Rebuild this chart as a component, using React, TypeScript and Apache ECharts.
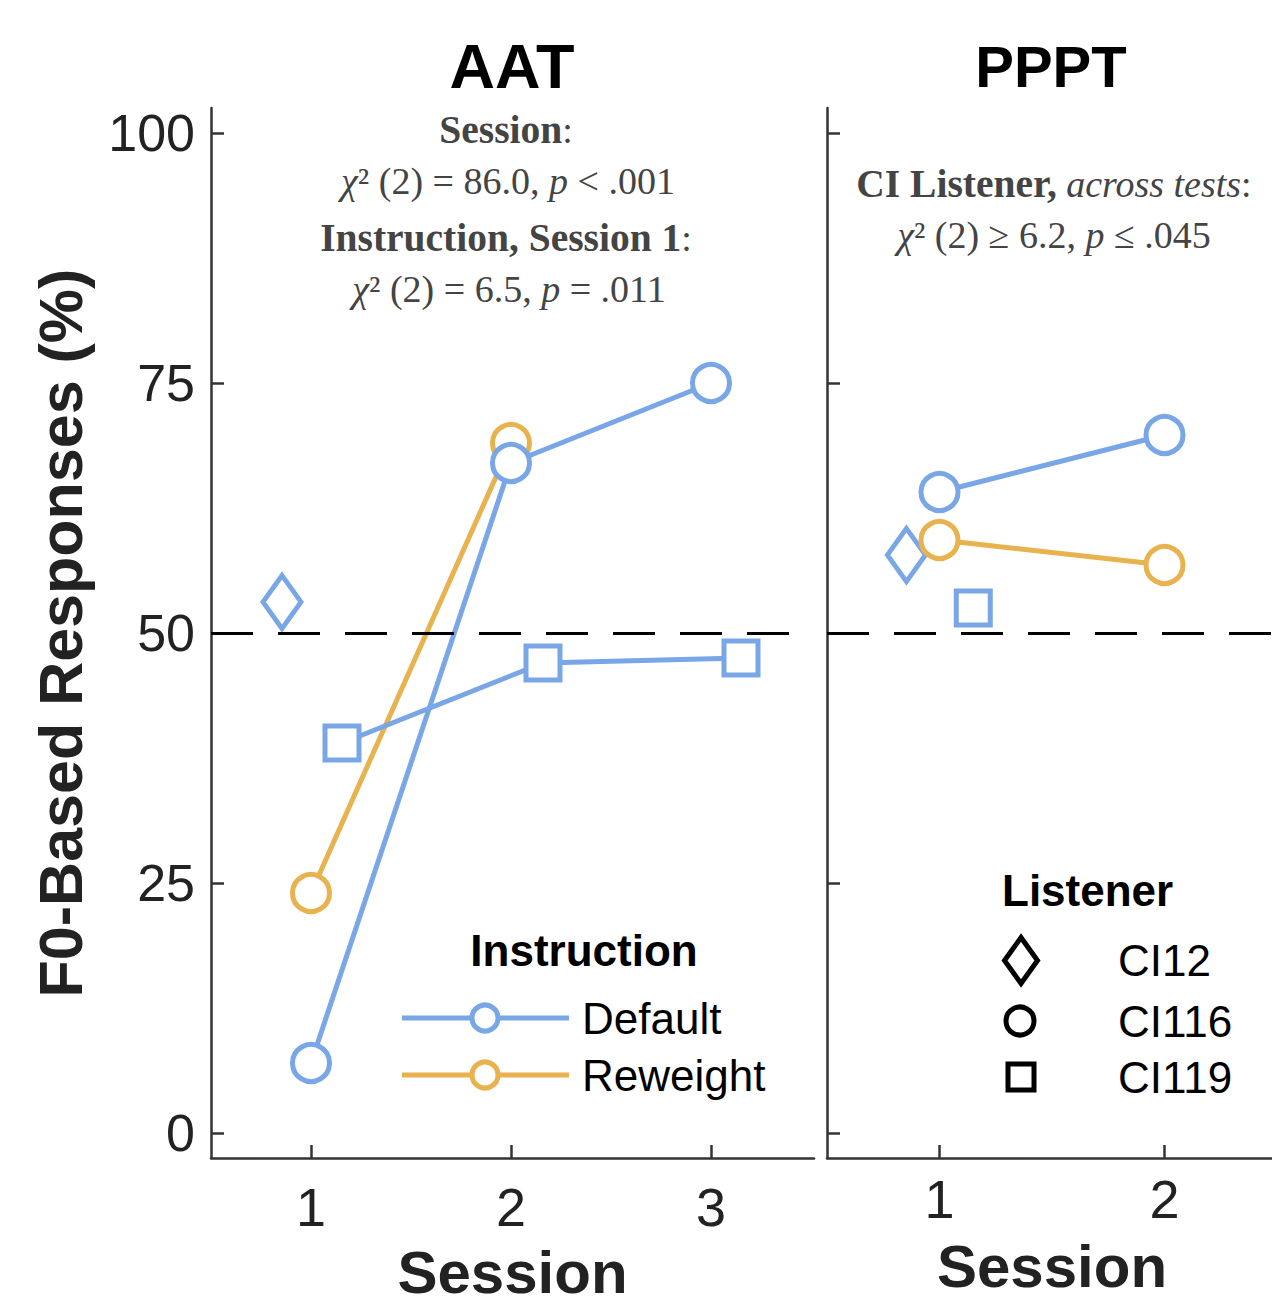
import React, { useEffect, useRef } from 'react';
import * as echarts from 'echarts';

// ---- data ----
const aatSessions = [1, 2, 3];
const ppptSessions = [1, 2];
const yTicks = [0, 25, 50, 75, 100];
const chanceLevel = 50;

// AAT panel: [session (with small offsets per listener), % F0-based]
const aatCI12Default = [[0.855, 53.1]];
const aatCI116Reweight = [[1, 24], [2, 69]];
const aatCI116Default = [[1, 7], [2, 67], [3, 75]];
const aatCI119Default = [[1.155, 39], [2.16, 47], [3.15, 47.5]];

// PPPT panel
const ppptCI12Default = [[0.853, 57.8]];
const ppptCI116Reweight = [[1, 59.3], [2, 56.8]];
const ppptCI116Default = [[1, 64.1], [2, 69.8]];
const ppptCI119Default = [[1.15, 52.5]];

const instructionNames = ['Default', 'Reweight'];
const listenerNames = ['CI12', 'CI116', 'CI119'];

// ---- styles ----
const BLUE = '#79a6e6';
const ORANGE = '#e8b24f';
const SANS = '"Liberation Sans", Arial, Helvetica, sans-serif';
const SERIF = '"Liberation Serif", "Times New Roman", serif';
const ANNO = '#444444';

function mkSeries(name: string, data: number[][], color: string, symbol: string, symbolSize: any, idx: number, extra: any = {}) {
  return {
    type: 'line',
    name,
    data,
    xAxisIndex: idx,
    yAxisIndex: idx,
    symbol,
    symbolSize,
    showSymbol: true,
    showAllSymbol: true,
    silent: true,
    lineStyle: { color, width: 5 },
    itemStyle: { color: '#ffffff', borderColor: color, borderWidth: 5 },
    emphasis: { disabled: true },
    ...extra,
  };
}

const chanceMark = {
  silent: true,
  symbol: 'none',
  label: { show: false },
  lineStyle: { color: '#000000', type: [42, 25], width: 3 },
  emphasis: { disabled: true },
  data: [{ yAxis: chanceLevel }],
};

function xAxisFor(idx: number, max: number, ticks: number[], labelMargin: number, nameGap: number) {
  return {
    type: 'value',
    gridIndex: idx,
    min: 0.5,
    max,
    axisLine: { show: true, onZero: false, lineStyle: { color: '#333333', width: 2.5 } },
    axisTick: { show: true, inside: true, length: 13, customValues: ticks, lineStyle: { color: '#333333', width: 2.5 } },
    axisLabel: { customValues: ticks, fontSize: 54, color: '#222222', fontFamily: SANS, margin: labelMargin },
    splitLine: { show: false },
    name: 'Session',
    nameLocation: 'middle',
    nameGap,
    nameTextStyle: { fontSize: 60, fontWeight: 'bold', color: '#222222', fontFamily: SANS },
  };
}

function yAxisFor(idx: number, showLabels: boolean) {
  return {
    type: 'value',
    gridIndex: idx,
    min: -2.5,
    max: 102.5,
    axisLine: { show: true, onZero: false, lineStyle: { color: '#333333', width: 2.5 } },
    axisTick: { show: true, inside: true, length: 13, customValues: yTicks, lineStyle: { color: '#333333', width: 2.5 } },
    axisLabel: { show: showLabels, customValues: yTicks, fontSize: 52, color: '#222222', fontFamily: SANS, margin: 16 },
    splitLine: { show: false },
    ...(showLabels
      ? {
          name: 'F0-Based Responses (%)',
          nameLocation: 'middle',
          nameGap: 120,
          nameRotate: 90,
          nameTextStyle: { fontSize: 61, fontWeight: 'bold', color: '#222222', fontFamily: SANS },
        }
      : {}),
  };
}

function annoText(x: number, y: number, text: string) {
  return {
    type: 'text',
    x,
    y,
    silent: true,
    style: {
      text,
      fontFamily: SERIF,
      fontSize: 38,
      fill: ANNO,
      align: 'center',
      verticalAlign: 'middle',
      rich: {
        b: { fontWeight: 'bold', fontFamily: SERIF, fontSize: 39.5, fill: ANNO },
        i: { fontStyle: 'italic', fontFamily: SERIF, fontSize: 38, fill: ANNO },
      },
    },
  };
}

function sansText(x: number, y: number, text: string, bold: boolean, align: string, size = 44, color = '#000000') {
  return {
    type: 'text',
    x,
    y,
    silent: true,
    style: {
      text,
      fontFamily: SANS,
      fontSize: size,
      fontWeight: bold ? 'bold' : 'normal',
      fill: color,
      align,
      verticalAlign: 'middle',
    },
  };
}

export default function App() {
  const ref = useRef<HTMLDivElement>(null);

  useEffect(() => {
    if (!ref.current) return;
    const chart = echarts.init(ref.current, undefined, { renderer: 'svg' });

    const instrColors = [BLUE, ORANGE];
    const instrRows = [1018, 1075];
    const legendInstr: any[] = [];
    instructionNames.forEach((n, i) => {
      legendInstr.push({
        type: 'line', silent: true,
        shape: { x1: 402, y1: instrRows[i], x2: 569, y2: instrRows[i] },
        style: { stroke: instrColors[i], lineWidth: 5 },
      });
      legendInstr.push({
        type: 'circle', silent: true,
        shape: { cx: 485, cy: instrRows[i], r: 13 },
        style: { fill: '#ffffff', stroke: instrColors[i], lineWidth: 5 },
      });
      legendInstr.push(sansText(582, instrRows[i], n, false, 'left'));
    });

    const listRows = [960, 1021, 1077];
    const legendList: any[] = [
      {
        type: 'polygon', silent: true,
        shape: { points: [[1021, 937.5], [1037.5, 960.5], [1021, 983.5], [1004.5, 960.5]] },
        style: { fill: '#ffffff', stroke: '#000000', lineWidth: 5 },
      },
      {
        type: 'circle', silent: true,
        shape: { cx: 1020, cy: 1021, r: 14 },
        style: { fill: '#ffffff', stroke: '#000000', lineWidth: 5 },
      },
      {
        type: 'rect', silent: true,
        shape: { x: 1008, y: 1064, width: 26, height: 26 },
        style: { fill: '#ffffff', stroke: '#000000', lineWidth: 5 },
      },
    ];
    listenerNames.forEach((n, i) => legendList.push(sansText(1118, listRows[i], n, false, 'left')));

    const option: any = {
      animation: false,
      backgroundColor: '#ffffff',
      grid: [
        { left: 211, top: 108, width: 603, height: 1050, outerBoundsMode: 'none', containLabel: false },
        { left: 827, top: 108, width: 450, height: 1050, outerBoundsMode: 'none', containLabel: false },
      ],
      xAxis: [xAxisFor(0, 3.515, aatSessions, 22, 84), xAxisFor(1, 2.5, ppptSessions, 14, 78)],
      yAxis: [yAxisFor(0, true), yAxisFor(1, false)],
      series: [
        mkSeries('CI12 Default', aatCI12Default, BLUE, 'diamond', [38, 53], 0, { markLine: chanceMark }),
        mkSeries('CI116 Reweight', aatCI116Reweight, ORANGE, 'circle', 37, 0),
        mkSeries('CI116 Default', aatCI116Default, BLUE, 'circle', 37, 0),
        mkSeries('CI119 Default', aatCI119Default, BLUE, 'rect', 34, 0),
        mkSeries('CI12 Default', ppptCI12Default, BLUE, 'diamond', [38, 53], 1, { markLine: chanceMark }),
        mkSeries('CI116 Reweight', ppptCI116Reweight, ORANGE, 'circle', 37, 1),
        mkSeries('CI116 Default', ppptCI116Default, BLUE, 'circle', 37, 1),
        mkSeries('CI119 Default', ppptCI119Default, BLUE, 'rect', 34, 1),
      ],
      graphic: [
        sansText(512, 66, 'AAT', true, 'center', 63),
        sansText(1051, 66, 'PPPT', true, 'center', 58),
        annoText(506, 130, '{b|Session}:'),
        annoText(508, 181, '{i|χ}² (2) = 86.0, {i|p} < .001'),
        annoText(506, 238, '{b|Instruction, Session 1}:'),
        annoText(509, 289, '{i|χ}² (2) = 6.5, {i|p} = .011'),
        annoText(1054, 184, '{b|CI Listener,} {i|across tests}:'),
        annoText(1054, 235, '{i|χ}² (2) ≥ 6.2, {i|p} ≤ .045'),
        sansText(584, 950, 'Instruction', true, 'center', 44),
        ...legendInstr,
        sansText(1002, 890, 'Listener', true, 'left', 44),
        ...legendList,
      ],
    };

    chart.setOption(option);
    return () => chart.dispose();
  }, []);

  return <div ref={ref} style={{ position: 'absolute', left: 0, top: 0, width: 1272, height: 1306 }} />;
}
